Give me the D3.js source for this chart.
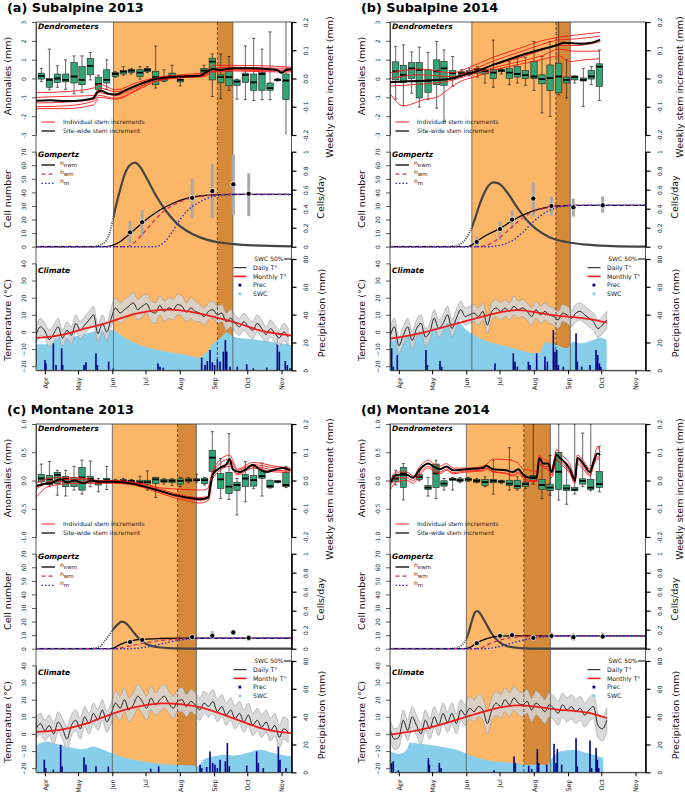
<!DOCTYPE html>
<html><head><meta charset="utf-8">
<script src="https://cdn.jsdelivr.net/npm/d3@7"></script>
<style>body{margin:0;background:#fff} svg{display:block} text{font-family:"DejaVu Sans",sans-serif}</style>
</head><body><svg id="c" width="685" height="796"></svg>
<script>
// ---------- common ----------
const monthDays=[91,121,152,182,213,244,274,305];
const monthLabels=["Apr","May","Jun","Jul","Aug","Sep","Oct","Nov"];
const tDaysAC=[83,87,91,95,99,103,107,111,115,119,123,127,131,135,139,143,147,151,155,159,163,167,171,175,179,183,187,191,195,199,203,207,211,215,219,223,227,231,235,239,243,247,251,255,259,263,267,271,275,279,283,287,291,295,299,303,307,311];
const tDaysBD=[83,87,91,95,99,103,107,111,115,119,123,127,131,135,139,143,147,151,155,159,163,167,171,175,179,183,187,191,195,199,203,207,211,215,219,223,227,231,235,239,243,247,251,255,259,263,267,271,275,279];

// growing season: [start, dark start (dashed), end]
const seasonA=[153,247,261], seasonB=[157,233,246], seasonC=[152,211,228], seasonD=[152,204,228];

// ---------- dendrometers: boxes [doy, lo, q1, med, q3, hi] (weekly increment, mm) ----------
const boxesA=[[87.8,-0.011,-0.002,0.009,0.019,0.036],[95.1,-0.04,-0.031,-0.005,0.0,0.104],[102.3,-0.031,-0.014,0.0,0.016,0.045],[109.8,-0.038,-0.012,-0.005,0.016,0.066],[117.4,-0.054,-0.016,0.007,0.056,0.08],[124.6,-0.049,-0.022,-0.005,0.042,0.08],[132.1,-0.005,0.013,0.045,0.071,0.092],[139.4,-0.049,-0.038,-0.019,0.005,0.012],[146.9,-0.038,-0.016,-0.005,0.031,0.066],[154.7,0.005,0.007,0.016,0.021,0.024],[162,0.012,0.016,0.024,0.028,0.042],[169.2,0.016,0.021,0.028,0.031,0.036],[177,-0.002,0.007,0.021,0.031,0.042],[183.7,0.021,0.024,0.031,0.036,0.042],[191.2,-0.034,-0.022,0.005,0.025,0.115],[198.7,-0.011,-0.009,-0.002,0.005,0.031],[206,0.001,0.005,0.009,0.019,0.047],[213.5,-0.026,-0.012,-0.005,-0.002,0.007],[234.9,0.016,0.019,0.028,0.036,0.047],[242.4,-0.064,-0.005,0.06,0.072,0.087],[250,-0.071,-0.014,0.005,0.013,0.087],[257.5,-0.042,-0.026,0.005,0.025,0.078],[264.7,-0.073,-0.024,-0.011,-0.005,-0.002],[272.3,-0.075,-0.014,0.012,0.019,0.115],[279.8,-0.078,-0.042,-0.014,0.016,0.142],[287.3,-0.075,-0.042,0.016,0.021,0.104],[294.6,-0.075,-0.042,-0.034,-0.016,0.165],[301.5,-0.009,-0.007,-0.005,-0.002,0.0],[309,-0.25,-0.075,-0.007,0.016,0.25]];
const boxesB=[[88.1,-0.073,-0.005,0.025,0.059,0.113],[95.1,-0.096,-0.014,0.013,0.047,0.119],[102.6,-0.052,0.0,0.036,0.056,0.094],[109.5,-0.101,-0.069,0.031,0.056,0.111],[117.4,-0.075,-0.049,-0.007,0.031,0.092],[125.2,-0.105,-0.022,0.025,0.066,0.131],[131.8,-0.152,-0.024,0.036,0.061,0.101],[139.7,-0.028,0.001,0.019,0.028,0.078],[147.8,0.005,0.012,0.019,0.024,0.031],[154.7,0.009,0.014,0.021,0.028,0.036],[162,0.005,0.019,0.031,0.036,0.042],[168.9,-0.016,0.016,0.026,0.031,0.033],[176.4,-0.031,0.0,0.021,0.033,0.136],[183.7,0.016,0.024,0.028,0.033,0.035],[190.9,-0.022,0.0,0.021,0.035,0.059],[198.1,-0.016,0.005,0.016,0.042,0.072],[205.4,-0.024,0.0,0.012,0.028,0.075],[213.2,-0.042,0.0,0.007,0.061,0.131],[220.4,-0.122,-0.019,-0.002,0.013,0.078],[227.7,-0.134,-0.042,0.001,0.048,0.131],[235.5,-0.058,-0.049,0.007,0.054,0.2],[242.7,-0.069,-0.016,-0.005,0.005,0.066],[250,-0.016,-0.005,0.005,0.009,0.009],[257.8,-0.099,-0.009,-0.005,0.002,0.036],[265,-0.022,-0.002,0.007,0.028,0.042],[272.3,-0.078,-0.028,0.042,0.052,0.101]];
const boxesC=[[87.8,-0.016,-0.005,0.007,0.022,0.058],[95.1,-0.022,-0.015,0.004,0.018,0.067],[102.3,-0.052,-0.011,0.02,0.029,0.036],[109.8,-0.055,-0.022,0.006,0.015,0.036],[117.4,-0.034,-0.022,0.001,0.011,0.05],[124.6,-0.048,-0.034,0.011,0.046,0.072],[132.1,-0.022,-0.006,0.006,0.015,0.069],[139.4,-0.04,-0.016,-0.008,-0.001,0.007],[146.9,-0.032,-0.008,0.001,0.008,0.05],[154.7,-0.008,-0.004,-0.001,0.001,0.004],[162,-0.011,-0.005,-0.001,0.004,0.007],[169.2,-0.011,-0.006,-0.002,0.001,0.004],[177,-0.02,-0.011,-0.006,0.001,0.015],[183.7,-0.034,-0.013,-0.006,0.001,0.034],[191.2,-0.06,-0.011,0.004,0.011,0.011],[198.7,-0.013,-0.006,-0.002,0.004,0.007],[206,-0.018,-0.008,-0.001,0.004,0.007],[213.5,-0.022,-0.013,-0.001,0.006,0.011],[220.9,-0.008,-0.004,0.001,0.006,0.011],[228.3,-0.006,-0.001,0.001,0.006,0.022],[235.5,-0.016,-0.011,0.001,0.008,0.011],[242.4,0.011,0.032,0.081,0.107,0.173],[250,-0.064,-0.028,0.004,0.025,0.078],[257.5,-0.067,-0.046,-0.022,0.029,0.166],[264.7,-0.122,-0.036,-0.016,-0.006,0.007],[272.3,-0.075,-0.022,0.007,0.022,0.067],[279.8,-0.029,-0.02,0.001,0.018,0.048],[287.3,-0.055,0.008,0.015,0.036,0.062],[294.6,-0.027,-0.025,-0.02,0.001,0.001],[301.5,-0.008,-0.006,-0.004,-0.001,-0.001],[309,-0.025,-0.022,-0.016,0.029,0.05]];
const boxesD=[[88.1,-0.016,-0.005,0.007,0.019,0.036],[95.1,-0.069,-0.025,0.025,0.046,0.06],[109.5,-0.001,0.004,0.013,0.022,0.036],[117.4,-0.055,-0.032,-0.025,-0.018,0.011],[124.6,-0.064,-0.025,0.025,0.058,0.072],[131.8,-0.034,-0.02,-0.011,-0.001,0.007],[139.7,-0.034,0.001,0.004,0.008,0.011],[146.3,-0.008,-0.004,0.001,0.006,0.011],[153.8,-0.004,-0.001,0.004,0.008,0.011],[161.4,-0.008,-0.006,-0.001,0.004,0.007],[168.9,-0.022,-0.018,-0.006,0.004,0.013],[176.4,-0.048,-0.008,-0.001,0.004,0.072],[183.7,-0.011,-0.006,-0.004,-0.001,0.001],[190.9,-0.034,-0.018,-0.011,0.001,0.116],[198.1,-0.034,-0.028,-0.02,0.001,0.013],[205.4,-0.029,-0.022,-0.013,-0.006,0.011],[212.6,-0.013,0.001,0.011,0.018,0.2],[220.4,-0.064,-0.032,-0.016,0.004,0.054],[227.7,-0.052,-0.036,-0.025,-0.013,0.089],[235.5,-0.069,-0.032,0.031,0.1,0.2],[242.7,-0.084,-0.036,-0.028,-0.016,0.054],[250,-0.048,-0.036,-0.032,-0.025,0.2],[257.2,-0.022,-0.013,-0.001,0.006,0.168],[264.5,-0.036,-0.032,-0.025,0.004,0.2],[272.3,-0.04,-0.025,-0.013,0.032,0.121]];

// ---------- dendrometers: cumulative anomalies [doy, mm] ----------
const siteA=[[83,-1.18],[95.5,-1.15],[110.5,-1.2],[125.5,-1.15],[134.5,-1.05],[139,-0.7],[142,-0.65],[147.6,-0.8],[155,-0.85],[165,-0.6],[177,-0.3],[189,-0.05],[201,0.05],[213,0.1],[231,0.15],[238.5,0.4],[243,0.5],[249,0.45],[262,0.55],[277,0.55],[292,0.5],[301,0.45],[305,0.3],[309,0.45],[314,0.5]];
const redA1=[[83,-0.75],[110,-0.7],[135,-0.5],[140,-0.3],[155,-0.6],[175,-0.2],[192,0.05],[215,0.2],[235,0.3],[243,0.7],[262,0.7],[300,0.65],[314,0.6]];
const redA2=[[83,-1.0],[110,-0.95],[135,-0.9],[140,-0.5],[155,-0.7],[175,-0.35],[192,0.0],[215,0.15],[235,0.2],[243,0.55],[262,0.6],[300,0.55],[314,0.55]];
const redA3=[[83,-1.3],[110,-1.25],[135,-1.1],[140,-0.75],[155,-0.9],[175,-0.45],[192,-0.1],[215,0.1],[235,0.15],[243,0.45],[262,0.5],[300,0.45],[314,0.45]];
const redA4=[[83,-1.5],[110,-1.45],[135,-1.2],[140,-0.9],[155,-1.05],[175,-0.55],[192,-0.05],[215,0.05],[235,0.1],[243,0.4],[262,0.45],[300,0.4],[314,0.4]];
const redA5=[[83,-1.6],[110,-1.6],[135,-1.4],[140,-1.0],[155,-1.1],[175,-0.6],[192,-0.15],[215,0.05],[235,0.1],[243,0.35],[262,0.4],[300,0.35],[314,0.35]];
const siteB=[[83,-0.2],[100,-0.15],[120,-0.1],[139,0.0],[150,0.2],[160,0.35],[175,0.7],[190,1.0],[205,1.3],[220,1.55],[233,1.75],[240,1.9],[255,1.85],[265,1.9],[273,2.05]];
const redB1=[[83,0.3],[110,0.5],[139,0.3],[155,0.6],[175,1.1],[200,1.6],[220,2.0],[236,2.2],[250,2.3],[273,2.45]];
const redB2=[[83,0.0],[110,0.2],[139,0.1],[155,0.4],[175,0.9],[200,1.4],[220,1.8],[236,2.05],[250,2.1],[273,2.25]];
const redB3=[[83,-0.2],[110,-0.1],[139,0.0],[155,0.3],[175,0.7],[200,1.1],[220,1.5],[236,1.75],[250,1.75],[273,1.95]];
const redB4=[[83,-0.4],[110,-0.3],[139,-0.1],[155,0.2],[175,0.55],[200,0.9],[220,1.2],[236,1.55],[250,1.45],[273,1.45]];
const redB5=[[83,-0.8],[95,-1.45],[115,-1.1],[125,-1.0],[135,-0.6],[145,-0.2],[160,0.1],[180,0.5],[200,0.75],[220,1.0],[236,1.2],[245,0.9],[260,1.0],[273,1.05]];
const siteC=[[83,-0.1],[90,-0.06],[96,-0.05],[105,0.02],[111,-0.03],[118,0.0],[126,-0.05],[133,0.0],[141,-0.02],[153,-0.02],[171,-0.06],[189,-0.15],[207,-0.25],[219,-0.3],[231,-0.33],[238.8,-0.3],[240.3,-0.12],[243.3,0.12],[249,0.22],[255,0.28],[258,0.38],[261,0.2],[267,0.15],[273,0.2],[279,0.28],[285,0.2],[291,0.15],[300,0.2],[306,0.22],[313,0.18]];
const redC1=[[83,-0.05],[100,0.05],[120,0.05],[141,0.0],[153,0.0],[171,-0.03],[185,-0.08],[195,-0.13],[210,-0.15],[231,-0.17],[238,-0.15],[243,0.2],[258,0.45],[265,0.2],[279,0.32],[300,0.25],[313,0.22]];
const redC2=[[83,-0.15],[100,-0.02],[120,-0.02],[141,-0.03],[153,-0.03],[171,-0.05],[189,-0.15],[207,-0.27],[220,-0.32],[231,-0.35],[239,-0.32],[243,0.1],[258,0.3],[265,0.12],[279,0.25],[300,0.18],[313,0.17]];
const redC3=[[83,-0.3],[95,-0.1],[120,-0.05],[141,-0.05],[153,-0.05],[171,-0.08],[189,-0.18],[207,-0.3],[220,-0.36],[231,-0.4],[239,-0.35],[243,0.05],[258,0.25],[265,0.1],[279,0.22],[300,0.15],[313,0.15]];
const redC4=[[83,-0.12],[100,0.0],[120,0.02],[141,-0.01],[153,-0.01],[171,-0.04],[189,-0.12],[207,-0.22],[220,-0.28],[231,-0.3],[239,-0.28],[243,0.15],[258,0.38],[265,0.18],[279,0.28],[300,0.22],[313,0.2]];
const siteD=[[83,-0.05],[89,0.1],[98,0.1],[104,0.05],[110,0.2],[117.7,0.3],[122,0.25],[128,0.2],[134,0.25],[140,0.18],[152,0.2],[167,0.22],[170,0.26],[176,0.2],[188,0.18],[194,0.15],[199,0.2],[203.6,0.1],[209.6,0.05],[215.6,0.05],[218,0.4],[221.6,0.3],[226,0.3],[229,0.15],[233.7,0.45],[236.7,0.4],[245.7,0.2],[250.3,0.0],[252.4,0.4],[257.8,0.3],[263.8,0.15],[267.4,0.35],[270.5,0.48],[273,0.45]];
const redD1=[[83,0.0],[89,0.15],[98,0.15],[104,0.08],[110,0.25],[117.7,0.36],[122,0.3],[128,0.25],[134,0.3],[140,0.22],[152,0.22],[167,0.25],[170,0.28],[176,0.38],[188,0.37],[194,0.35],[199,0.3],[203.6,0.2],[209.6,0.18],[215.6,0.15],[218,0.45],[221.6,0.38],[226,0.35],[229,0.2],[233.7,0.55],[236.7,0.48],[245.7,0.28],[250.3,0.05],[252.4,0.45],[257.8,0.35],[263.8,0.2],[267.4,0.4],[270.5,0.6],[273,0.5]];
const redD2=[[83,-0.12],[89,0.05],[98,0.05],[104,0.0],[110,0.14],[117.7,0.25],[122,0.2],[128,0.15],[134,0.2],[140,0.14],[152,0.17],[167,0.18],[170,0.22],[176,0.16],[188,0.13],[194,0.1],[199,0.15],[203.6,0.06],[209.6,0.0],[215.6,0.0],[218,0.33],[221.6,0.25],[226,0.25],[229,0.1],[233.7,0.38],[236.7,0.34],[245.7,0.15],[250.3,-0.03],[252.4,0.35],[257.8,0.25],[263.8,0.1],[267.4,0.3],[270.5,0.42],[273,0.4]];
const redD3=[[83,-0.18],[89,-0.02],[98,0.0],[104,-0.05],[110,0.1],[117.7,0.22],[122,0.17],[128,0.12],[134,0.18],[140,0.12],[152,0.15],[167,0.17],[170,0.2],[176,0.15],[188,0.12],[194,0.08],[199,0.12],[203.6,0.04],[209.6,-0.02],[215.6,-0.02],[218,0.3],[221.6,0.22],[226,0.2],[229,0.05],[233.7,0.35],[236.7,0.3],[245.7,0.12],[250.3,-0.05],[252.4,0.3],[257.8,0.2],[263.8,0.08],[267.4,0.28],[270.5,0.38],[273,0.38]];

// ---------- Gompertz: [doy, cells] ; rate [doy, cells/day] ; obs [doy, mean, lo, hi] ----------
const ewmA=[[83,0],[147,0],[150,0.5],[159,3.7],[168,9.8],[177,16],[186,22],[195,27],[207,32],[219,35.6],[237,37.8],[260,38.5],[314,38.5]];
const wmA=[[83,0],[164,0],[171,2.5],[180,10],[189,18.4],[198,25.8],[207,30.7],[219,34.9],[231,36.9],[243,38],[260,38.5],[314,38.5]];
const mA=[[83,0],[190,0],[195,1],[201,5],[207,12],[213,19.7],[219,25.8],[225,30],[231,33],[243,37],[255,38.1],[270,38.5],[314,38.5]];
const rateA=[[83,0],[134,0],[137.9,0.007],[143.9,0.035],[148.4,0.105],[151.4,0.228],[154.4,0.386],[159,0.596],[163.5,0.772],[168,0.86],[172.5,0.884],[177,0.842],[183.1,0.72],[192.1,0.526],[201.1,0.368],[210.2,0.246],[219.2,0.168],[231.3,0.098],[246.4,0.049],[261.4,0.028],[279.5,0.014],[314,0.004]];
const obsA=[[168,10.5,2.5,19],[179,18,7.5,27],[224.2,36,21,50],[242.4,41,21,61],[261.4,46,23.5,68],[275.3,39,22.5,54]];
const ewmB=[[83,0],[150,0],[155,0.5],[161.4,3.9],[170.4,8.6],[182.5,13.5],[194.5,19.7],[206.6,24.6],[218.6,27.8],[233.7,30],[250,30.5],[314,30.5]];
const wmB=[[83,0],[163,0],[170,1],[179.4,4.9],[188.5,11],[200.5,19.7],[212.6,25.8],[224.7,28.7],[236.7,30.2],[255,30.5],[314,30.5]];
const mB=[[83,0],[172,0],[185.5,1.7],[194.5,4.9],[203.6,11],[212.6,18.4],[224.7,25.8],[236.7,29.5],[248.8,30.4],[265,30.5],[314,30.5]];
const rateB=[[83,0],[137,0],[140.3,0.003],[146.3,0.028],[150.8,0.07],[155.3,0.158],[159.9,0.298],[164.4,0.456],[170.4,0.614],[176.4,0.677],[180.9,0.667],[188.5,0.579],[197.5,0.421],[206.6,0.28],[215.6,0.182],[227.7,0.098],[242.7,0.049],[260.8,0.021],[284.9,0.007],[314,0]];
const obsB=[[161.4,3.5,0,7.4],[182.5,13,4.9,18.4],[193.4,20,13.5,27],[212.6,35.5,22.1,47.2],[228.9,30,22.9,36.9],[248.8,29,22.1,35.4],[275.3,30.5,25,37]];
const ewmC=[[83,0],[148,0],[153,0.5],[159,3],[168,5.5],[180,7],[195,7.5],[215,7.7],[314,7.7]];
const wmC=[[83,0],[154,0],[159,0.5],[171,2.5],[183.1,4.5],[198.1,6.2],[213.2,7.2],[231.3,7.7],[314,7.7]];
const mC=[[83,0],[166,0],[183.1,1.2],[195.1,3.2],[207.2,5.5],[219.2,7],[231.3,7.6],[250,7.7],[314,7.7]];
const rateC=[[83,0],[132,0],[134.8,0.004],[140.9,0.025],[146.9,0.106],[152.9,0.206],[157.4,0.262],[160.5,0.284],[165,0.262],[171,0.177],[177,0.096],[183.1,0.046],[192.1,0.018],[207.2,0.004],[230,0],[314,0]];
const obsC=[[168,5,3,7],[179,6.5,5,8],[224.2,8.5,7,10],[242.4,9.5,7,13],[261.4,12,10,14],[275.3,8,6,10]];
const ewmD=[[83,0],[150,0],[155,0.8],[161.4,4.2],[170.4,7.4],[182.5,9.2],[194.5,9.4],[314,9.4]];
const wmD=[[83,0],[158,0],[164.4,0.5],[173.4,3.7],[182.5,6.5],[194.5,8.4],[206.6,9.2],[225,9.4],[314,9.4]];
const mD=[[83,0],[168,0],[182.5,1.7],[194.5,4.5],[206.6,6.9],[218.6,8.4],[236.7,9.3],[255,9.4],[314,9.4]];
const rateD=[[83,0],[137,0],[140.3,0.004],[146.3,0.025],[150.8,0.078],[153.8,0.16],[156.8,0.284],[159.9,0.383],[162,0.397],[164.4,0.372],[168.9,0.284],[174.9,0.16],[180.9,0.078],[188.5,0.028],[200.5,0.007],[220,0],[314,0]];
const obsD=[[161.4,4,2,6],[182.5,9.5,8,11],[193.4,10,8,11],[212.6,8,7,9],[228.9,9.5,7,12],[248.8,8.5,6,11],[275.3,9,7,12]];

// ---------- Climate ----------
const tMeanA=[-2,3,0.5,-4.5,-1,3,-3.5,1,-2,5,1,4,7,10,-1,5,0,8,14,11,13,15,17,13,15,16.5,12,11,15.5,12,14,13,16,15,11.5,14,12,11,9,12,13,10,11,6,8,5,3,6,3,1,5,2,-1.5,2,-1,-3.5,0,-3];
const tHiA=[3,8,5,1,4,8,1,6,3,10,6,9,12,15,4,10,5,14,20,17,19,21,23,19,21,22,18,17,21,18,20,19,22,21,17,20,18,16,14,17,18,15,16,11,13,10,8,11,8,6,10,7,3,7,4,1,5,2];
const tLoA=[-7,-2,-4,-9,-6,-2,-8,-4,-7,0,-4,-1,2,5,-6,0,-5,3,8,5,7,9,11,7,9,11,6,5,10,6,8,7,10,9,6,8,6,6,4,7,8,5,6,1,3,0,-2,1,-2,-4,0,-3,-6,-3,-6,-8,-5,-8];
const tMeanB=[-3,3,-8,-2,3,-5,2,5,-3,0,8,2,5,10,2,8,13,9,10,11,9,12,4,12,14,12,14,12,15,13,14,12,9,13,10,12,10,9,7,11,10,8,11,12,10,8,6,2,4,7];
const tHiB=[2,8,-3,3,8,0,7,10,2,5,13,7,10,15,7,13,18,14,15,16,14,17,9,17,19,17,19,17,21,18,19,17,14,18,15,17,15,14,12,16,15,13,16,17,15,13,11,7,9,12];
const tLoB=[-8,-2,-13,-7,-2,-10,-3,0,-8,-5,3,-3,0,5,-3,3,8,4,5,6,4,7,-1,7,9,7,9,7,10,8,9,7,4,8,5,7,5,4,2,6,5,3,6,7,5,3,1,-3,-1,2];
const tMeanC=[3,6,2,5,0,7,3,-3,5,8,3,10,6,12,8,14,7,12,18,15,20,14,17,22,19,15,21,17,20,22,18,15,19,20,16,19,17,14,18,16,19,13,16,11,14,9,12,7,11,5,8,4,7,2,5,-2,3,1];
const tHiC=[9,12,8,11,6,13,9,4,11,14,9,16,12,18,14,20,13,18,25,22,27,21,24,29,26,22,28,24,27,29,25,22,26,27,23,26,24,21,25,23,26,20,23,18,21,16,19,14,18,12,15,11,14,9,12,5,10,8];
const tLoC=[-3,0,-4,-1,-6,1,-3,-9,-1,2,-3,4,0,6,2,8,1,6,11,8,13,7,10,15,12,8,14,11,13,15,12,9,13,13,10,13,11,8,12,10,12,7,10,5,8,3,6,1,5,-1,2,-2,1,-4,-1,-8,-3,-5];
const tMeanD=[3,-3,-2,8,2,10,5,0,8,3,10,5,12,7,12,6,14,11,15,13,16,14,6,14,18,16,20,17,21,18,17,19,14,18,16,13,17,15,12,17,14,16,13,15,11,14,16,5,3,8];
const tHiD=[9,3,4,14,8,16,11,6,14,9,16,11,18,13,18,12,20,17,22,20,23,21,13,21,25,23,27,24,28,25,24,26,21,25,23,20,24,22,19,24,21,23,20,22,18,21,23,12,10,15];
const tLoD=[-3,-9,-8,2,-4,4,-1,-6,2,-3,4,-1,6,1,6,0,8,5,9,7,10,8,0,8,11,9,13,10,14,11,10,12,7,11,9,6,10,8,5,10,7,9,6,8,4,7,9,-2,-4,1];
const tMonA=[[83,-3.5],[105,-2.5],[126,2],[138,3.5],[153,6.4],[171,10.9],[198,13.4],[213,12.8],[231,10.9],[249,8],[267,5],[285,0.6],[300,-1],[314,-2.1]];
const tMonB=[[83,-4],[113,-0.8],[143,5],[174,10.3],[198,13.8],[219,10.9],[234,9.3],[249,8.7],[264,7.6],[279,5.4]];
const tMonC=[[83,1.2],[105,2],[126,5.3],[141,9.2],[153,12],[171,16],[198,18.3],[213,17.5],[231,16],[249,12],[267,7.8],[285,3.3],[300,1.4],[314,0.4]];
const tMonD=[[83,-0.4],[113,2.3],[143,8.2],[174,14.4],[198,17.5],[219,15.6],[234,14],[249,13.6],[264,12.5],[279,9.2]];
const precA=[[91.1,7.4],[92,5],[98.7,19.4],[101.1,3.8],[106.2,15.8],[107.1,3.8],[126.4,3.8],[128.2,5.7],[137.2,12.2],[138.5,3.8],[148.7,6.2],[152.9,1.4],[193.3,5],[195.1,2.6],[198.1,1.9],[232.8,9],[235.8,3.8],[237.9,6.7],[240.3,14.6],[242.4,5.7],[244.5,3.8],[247,8],[249.4,6.2],[252.4,13.4],[254.2,21.8],[255.4,13.4],[258.4,2.6],[265,2.6],[273.5,4.3],[279.5,1.4],[291.6,1.9],[301.2,25.4],[303,13.4],[308.4,6.7],[310.2,3.8],[312.7,1.4]];
const precB=[[84.5,15.8],[86,2.6],[89.6,11],[115.5,14.6],[116.8,3.8],[128.2,6.7],[129.7,2.6],[177.9,5],[194.5,12.2],[196,6.2],[198.1,2.6],[208.1,6.2],[209.6,3.8],[215.6,12.2],[223.1,9.8],[225.3,6.2],[230.7,29],[232.2,13.4],[233.7,14.6],[235.2,3.8],[239.7,2.6],[251.2,26.6],[252.4,6.2],[256.3,2.6],[263.8,3.8],[269.3,14.6],[270.8,11],[272.3,5],[273.5,2.6]];
const precC=[[90.5,9],[91.7,3],[98.7,1.9],[105.3,19.8],[106.5,4.3],[126.4,10.7],[128.2,5.5],[137.2,4.3],[148.4,4.3],[186.7,2.6],[193.9,4.3],[231.3,5.5],[232.8,3],[237.3,3.8],[240.3,15],[242.7,6.7],[244.8,5.5],[247,3],[249.4,9],[254.2,7.9],[256,21],[257.8,4.3],[273.5,4.8],[282.5,15],[284,6.7],[288.5,3],[302.1,19],[303.6,9],[309,3]];
const precD=[[84.5,6.7],[86,7.9],[90.5,1.4],[117.7,10.2],[118.6,5.5],[127.6,6.7],[129.1,3],[177,1.4],[195.1,11.4],[196.3,6.7],[208.4,4.8],[211.1,2.4],[216.2,16.7],[217.4,6.7],[224.7,5.5],[231.3,20.5],[233.1,6.7],[234.3,16.7],[238.2,5.5],[251.2,24.5],[252.4,4.3],[263.8,22.9],[265.3,3],[269.3,17.4],[270.5,9],[271.7,3]];
const swcA=[[83,18.7],[95.7,18.7],[98.7,21],[104.7,24.2],[116.8,24.2],[125.8,25.9],[137.9,28.3],[146.9,28.7],[152.9,28.7],[159,25.4],[171,20.1],[186.1,15.8],[201.1,13.4],[219.2,11],[231.3,9.1],[234.3,11],[238.8,14.6],[243.3,19.4],[249.4,23],[255.4,27.1],[261.4,24.2],[276.5,22.5],[291.6,21.1],[303.6,19.4],[314,18.2]];
const swcB=[[83,20.6],[98.1,25.4],[113.1,29],[128.2,31.4],[137.2,35],[141.8,36.2],[152.3,29],[164.4,23],[182.5,18.2],[200.5,14.6],[212.6,12.2],[218.6,12.9],[223.1,20.1],[233.7,18.2],[242.7,15.8],[248.8,20.6],[254.8,19.4],[266.8,21.8],[272.9,23.5],[278.9,21.8]];
const swcC=[[83,18.6],[86.6,21],[92.6,22.1],[98.7,21],[110.7,18.6],[125.8,16.7],[134.8,18.6],[140.9,17.1],[149.9,14.3],[159,11.4],[171,9],[189.1,6.7],[207.2,5.5],[225.3,4.8],[229.8,4.3],[234.3,9],[243.3,11.4],[255.4,12.6],[261.4,11.9],[273.5,13.8],[285.5,16.2],[297.6,13.8],[309.6,11.9],[314,11.4]];
const swcD=[[83,15],[92,13.3],[98.1,16.2],[101.1,21.4],[110.1,20.5],[128.2,18.6],[143.3,16.2],[158.3,11.4],[176.4,7.9],[194.5,6.7],[206.6,5.5],[224.7,5.5],[230.7,11.4],[236.7,15],[248.8,16.2],[260.8,13.8],[269.9,11.9],[275.9,10.2]];

// ---------- drawing ----------
const C={light:"#FBB767",dark:"#D68A39",box:"#33A474",swc:"#87CEEB",prec:"#00008B",band:"#D4D4D4"};
const svg=d3.select("#c");
const W=255.5;
const x=d3.scaleLinear().domain([83,314]).range([0,W]);

const panels=[
 {id:"a",tag:"(a)",name:"Subalpine 2013",ox:36,oy:0,wx:41,den:[-3,3],denTicks:[-3,-2,-1,0,1,2,3],denFmt:d=>String(d),season:seasonA,boxes:boxesA,site:siteA,reds:[redA1,redA2,redA3,redA4,redA5],ewm:ewmA,wm:wmA,m:mA,rate:rateA,obs:obsA,days:tDaysAC,tm:tMeanA,thi:tHiA,tlo:tLoA,mon:tMonA,prec:precA,swc:swcA},
 {id:"b",tag:"(b)",name:"Subalpine 2014",ox:390,oy:0,wx:37,den:[-3,3],denTicks:[-3,-2,-1,0,1,2,3],denFmt:d=>String(d),season:seasonB,boxes:boxesB,site:siteB,reds:[redB1,redB2,redB3,redB4,redB5],ewm:ewmB,wm:wmB,m:mB,rate:rateB,obs:obsB,days:tDaysBD,tm:tMeanB,thi:tHiB,tlo:tLoB,mon:tMonB,prec:precB,swc:swcB},
 {id:"c",tag:"(c)",name:"Montane 2013",ox:36,oy:402,wx:41,den:[-1,1],denTicks:[-1,-0.5,0,0.5,1],denFmt:d=>d.toFixed(1),season:seasonC,boxes:boxesC,site:siteC,reds:[redC1,redC2,redC3,redC4],ewm:ewmC,wm:wmC,m:mC,rate:rateC,obs:obsC,days:tDaysAC,tm:tMeanC,thi:tHiC,tlo:tLoC,mon:tMonC,prec:precC,swc:swcC},
 {id:"d",tag:"(d)",name:"Montane 2014",ox:390,oy:402,wx:37,den:[-1,1],denTicks:[-1,-0.5,0,0.5,1],denFmt:d=>d.toFixed(1),season:seasonD,boxes:boxesD,site:siteD,reds:[redD1,redD2,redD3],ewm:ewmD,wm:wmD,m:mD,rate:rateD,obs:obsD,days:tDaysBD,tm:tMeanD,thi:tHiD,tlo:tLoD,mon:tMonD,prec:precD,swc:swcD}
];

function styleAxis(sel,side,off){
  sel.attr("font-family","DejaVu Sans").attr("font-size",6);
  sel.select(".domain").attr("stroke",side==="right"?"#000":"#333").attr("stroke-width",side==="right"?1.6:0.8);
  sel.selectAll(".tick line").attr("stroke",side==="right"?"#000":"#333").attr("stroke-width",side==="right"?1.2:0.8);
  sel.selectAll(".tick text").attr("x",null).attr("y",null).attr("dy",null).attr("fill","#222")
     .attr("text-anchor","middle").attr("transform",`translate(${off},0) rotate(-90)`);
}

panels.forEach(p=>{
  const g=svg.append("g").attr("transform",`translate(${p.ox},${p.oy})`);
  const yDen=d3.scaleLinear().domain(p.den).range([135,22]);
  const yWk=d3.scaleLinear().domain([-0.2,0.2]).range([135,22]);
  const yCell=d3.scaleLinear().domain([0,70]).range([246.7,151.7]);
  const yRate=d3.scaleLinear().domain([0,1]).range([246.7,151.7]);
  const yT=d3.scaleLinear().domain([-20,40]).range([366.2,263.4]);
  const yP=d3.scaleLinear().domain([0,80]).range([370.3,259]);
  const s0=x(p.season[0]), s1=x(p.season[1]), s2=x(p.season[2]);
  const defs=g.append("defs");
  const clip=(n,x0,y0,w,h)=>defs.append("clipPath").attr("id",p.id+n).append("rect").attr("x",x0).attr("y",y0).attr("width",w).attr("height",h);
  clip("all",0,22,W,348.3); clip("den",0,22,W,113); clip("pre",0,140,s0,112); clip("post",s0,140,W-s0,112);

  // season shading
  g.append("rect").attr("x",s0).attr("y",22).attr("width",s1-s0).attr("height",348.3).attr("fill",C.light);
  g.append("rect").attr("x",s1).attr("y",22).attr("width",s2-s1).attr("height",348.3).attr("fill",C.dark);

  // ---- climate ----
  const gc=g.append("g").attr("clip-path",`url(#${p.id}all)`);
  gc.append("path").datum(p.swc).attr("fill",C.swc)
    .attr("d",d3.area().x(d=>x(d[0])).y0(yP(0)).y1(d=>yP(d[1])).curve(d3.curveMonotoneX));
  gc.selectAll(".pr").data(p.prec).join("rect").attr("x",d=>x(d[0])-0.8).attr("width",1.6)
    .attr("y",d=>yP(d[1])).attr("height",d=>yP(0)-yP(d[1])).attr("fill",C.prec);
  const idx=p.days.map((d,i)=>i);
  gc.append("path").datum(idx).attr("fill",C.band).attr("fill-opacity",0.85).attr("stroke","#9a9a9a").attr("stroke-width",0.6)
    .attr("d",d3.area().x(i=>x(p.days[i])).y0(i=>yT(p.tlo[i])).y1(i=>yT(p.thi[i])).curve(d3.curveMonotoneX));
  gc.append("path").datum(idx).attr("fill","none").attr("stroke","#111").attr("stroke-width",0.9)
    .attr("d",d3.line().x(i=>x(p.days[i])).y(i=>yT(p.tm[i])).curve(d3.curveMonotoneX));
  gc.append("path").datum(p.mon).attr("fill","none").attr("stroke","#F21B1B").attr("stroke-width",1.8)
    .attr("d",d3.line().x(d=>x(d[0])).y(d=>yT(d[1])).curve(d3.curveBasis));

  // season lines
  [s0,s2].forEach(v=>g.append("line").attr("x1",v).attr("x2",v).attr("y1",22).attr("y2",370.3).attr("stroke","#555").attr("stroke-width",0.8));
  g.append("line").attr("x1",s1).attr("x2",s1).attr("y1",22).attr("y2",370.3).attr("stroke","#333").attr("stroke-width",0.8).attr("stroke-dasharray","3,2");

  // ---- Gompertz ----
  const gg=g.append("g");
  gg.selectAll(".eb").data(p.obs).join("line").attr("x1",d=>x(d[0])).attr("x2",d=>x(d[0]))
    .attr("y1",d=>yCell(d[2])).attr("y2",d=>yCell(d[3])).attr("stroke","#A8A8A8").attr("stroke-width",3);
  const lc=d3.line().x(d=>x(d[0])).y(d=>yCell(d[1])).curve(d3.curveMonotoneX);
  const lr=d3.line().x(d=>x(d[0])).y(d=>yRate(d[1])).curve(d3.curveMonotoneX);
  gg.append("path").datum(p.rate).attr("clip-path",`url(#${p.id}pre)`).attr("fill","none").attr("stroke","#555").attr("stroke-width",2).attr("stroke-dasharray","1,1.3").attr("d",lr);
  gg.append("path").datum(p.rate).attr("clip-path",`url(#${p.id}post)`).attr("fill","none").attr("stroke","#444").attr("stroke-width",2.2).attr("d",lr);
  gg.append("path").datum(p.ewm).attr("fill","none").attr("stroke","#000").attr("stroke-width",1.3).attr("d",lc);
  gg.append("path").datum(p.wm).attr("fill","none").attr("stroke","#D0305C").attr("stroke-width",1.3).attr("stroke-dasharray","4,3").attr("d",lc);
  gg.append("path").datum(p.m).attr("fill","none").attr("stroke","#1F2FD0").attr("stroke-width",1.4).attr("stroke-dasharray","1.5,2").attr("d",lc);
  gg.selectAll(".pt").data(p.obs).join("circle").attr("cx",d=>x(d[0])).attr("cy",d=>yCell(d[1])).attr("r",2.6)
    .attr("fill","#000").attr("stroke","#fff").attr("stroke-width",0.8);

  // ---- dendrometers ----
  const gd=g.append("g").attr("clip-path",`url(#${p.id}den)`);
  const bw=6.4;
  p.boxes.forEach(b=>{
    const cx=x(b[0]);
    gd.append("line").attr("x1",cx).attr("x2",cx).attr("y1",yWk(b[1])).attr("y2",yWk(b[5])).attr("stroke","#222").attr("stroke-width",0.7);
    [b[1],b[5]].forEach(v=>gd.append("line").attr("x1",cx-bw/4).attr("x2",cx+bw/4).attr("y1",yWk(v)).attr("y2",yWk(v)).attr("stroke","#222").attr("stroke-width",0.7));
    gd.append("rect").attr("x",cx-bw/2).attr("width",bw).attr("y",yWk(b[4])).attr("height",Math.max(0.6,yWk(b[2])-yWk(b[4])))
      .attr("fill",C.box).attr("stroke","#222").attr("stroke-width",0.6);
    gd.append("line").attr("x1",cx-bw/2).attr("x2",cx+bw/2).attr("y1",yWk(b[3])).attr("y2",yWk(b[3])).attr("stroke","#000").attr("stroke-width",1.8);
  });
  const ld=d3.line().x(d=>x(d[0])).y(d=>yDen(d[1])).curve(d3.curveMonotoneX);
  p.reds.forEach(r=>gd.append("path").datum(r).attr("fill","none").attr("stroke","#FF1A1A").attr("stroke-width",0.9).attr("d",ld));
  gd.append("path").datum(p.site).attr("fill","none").attr("stroke","#000").attr("stroke-width",2).attr("d",ld);

  // ---- frame & axes ----
  g.append("rect").attr("x",0).attr("y",22).attr("width",W).attr("height",348.3).attr("fill","none").attr("stroke","#333").attr("stroke-width",0.8);
  g.append("g").call(d3.axisLeft(yDen).tickValues(p.denTicks).tickFormat(p.denFmt).tickSize(4).tickSizeOuter(0)).call(styleAxis,"left",-10.5);
  g.append("g").call(d3.axisLeft(yCell).tickValues([0,10,20,30,40,50,60,70]).tickSize(4).tickSizeOuter(0)).call(styleAxis,"left",-10.5);
  g.append("g").call(d3.axisLeft(yT).tickValues([-20,-10,0,10,20,30,40]).tickSize(4).tickSizeOuter(0)).call(styleAxis,"left",-10.5);
  g.append("g").attr("transform",`translate(${W},0)`).call(d3.axisRight(yWk).tickValues([-0.2,-0.1,0,0.1,0.2]).tickFormat(d=>d.toFixed(1)).tickSize(5).tickSizeOuter(0)).call(styleAxis,"right",16);
  g.append("g").attr("transform",`translate(${W},0)`).call(d3.axisRight(yRate).tickValues([0,0.2,0.4,0.6,0.8,1]).tickFormat(d=>String(d)).tickSize(5).tickSizeOuter(0)).call(styleAxis,"right",16);
  g.append("g").attr("transform",`translate(${W},0)`).call(d3.axisRight(yP).tickValues([0,20,40,60,80]).tickSize(5).tickSizeOuter(0)).call(styleAxis,"right",16);
  const ax=g.append("g").attr("transform","translate(0,370.3)").call(d3.axisBottom(x).tickValues(monthDays).tickFormat((d,i)=>monthLabels[i]).tickSize(4).tickSizeOuter(0));
  ax.attr("font-family","DejaVu Sans").attr("font-size",6.5);
  ax.select(".domain").attr("stroke","#333").attr("stroke-width",0.8);
  ax.selectAll(".tick text").attr("y",null).attr("dy","0.35em").attr("text-anchor","end").attr("fill","#222").attr("transform","translate(0,7) rotate(-90)");

  // ---- titles ----
  g.append("text").attr("x",-29).attr("y",12).attr("font-size",12.8).attr("font-weight","bold").text(p.tag+" "+p.name);
  const rt=(t,xx,yy)=>g.append("text").attr("transform",`translate(${xx},${yy}) rotate(-90)`).attr("text-anchor","middle").attr("font-size",9.5).attr("fill","#111").text(t);
  rt("Anomalies (mm)",-25.5,76); rt("Cell number",-25.5,199); rt("Temperature (°C)",-25.5,320);
  rt("Weekly stem increment (mm)",W+p.wx,87); rt("Cells/day",W+32,197); rt("Precipitation (mm)",W+33,313);
  const bi=(t,yy)=>g.append("text").attr("x",2).attr("y",yy).attr("font-size",7.5).attr("font-weight","bold").attr("font-style","italic").text(t);
  bi("Dendrometers",29); bi("Gompertz",156.5); bi("Climate",272.5);

  // dendro legend
  [["Individual stem increments","#FF1A1A",1],["Site-wide stem increment","#555",1.8]].forEach((l,i)=>{
    const yy=122+i*9;
    g.append("line").attr("x1",5.5).attr("x2",19).attr("y1",yy).attr("y2",yy).attr("stroke",l[1]).attr("stroke-width",l[2]);
    g.append("text").attr("x",27).attr("y",yy).attr("dy","0.35em").attr("font-size",6).attr("fill","#222").text(l[0]);
  });
  // Gompertz legend
  [["ewm","#000","none"],["wm","#D0305C","4,3"],["m","#1F2FD0","1.5,2"]].forEach((l,i)=>{
    const yy=165+i*9.2;
    g.append("line").attr("x1",5.5).attr("x2",19).attr("y1",yy).attr("y2",yy).attr("stroke",l[1]).attr("stroke-width",1.3).attr("stroke-dasharray",l[2]);
    const t=g.append("text").attr("x",24).attr("y",yy-0.5).attr("font-size",6).attr("fill","#222");
    t.append("tspan").text("n"); t.append("tspan").attr("dy",2).attr("font-size",5.5).text(l[0]);
  });
  // climate legend
  g.append("text").attr("x",247.5).attr("y",259).attr("dy","0.35em").attr("text-anchor","end").attr("font-size",6).attr("fill","#222").text("SWC 50%");
  g.append("line").attr("x1",248).attr("x2",W).attr("y1",259).attr("y2",259).attr("stroke","#000").attr("stroke-width",1);
  [["Daily T°","line","#111"],["Monthly T°","line","#F21B1B"],["Prec","sq",C.prec],["SWC","sq",C.swc]].forEach((l,i)=>{
    const yy=267.7+i*8.7;
    if(l[1]==="line") g.append("line").attr("x1",197.5).attr("x2",210.5).attr("y1",yy).attr("y2",yy).attr("stroke",l[2]).attr("stroke-width",i===1?1.6:1);
    else g.append("rect").attr("x",202.5).attr("y",yy-1.4).attr("width",2.8).attr("height",2.8).attr("fill",l[2]);
    g.append("text").attr("x",217).attr("y",yy).attr("dy","0.35em").attr("font-size",6.2).attr("fill","#222").text(l[0]);
  });
});
</script></body></html>
